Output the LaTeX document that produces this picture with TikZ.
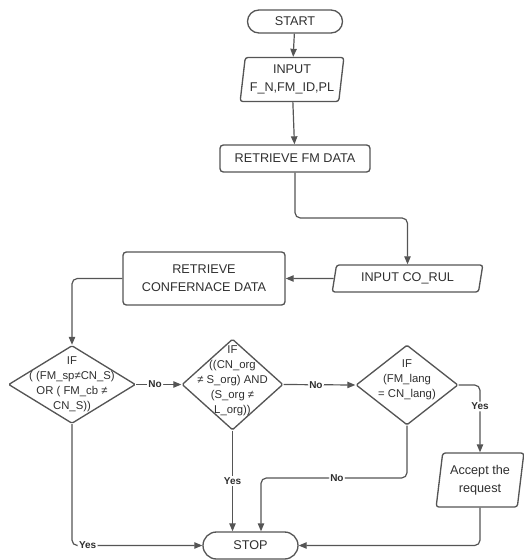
\documentclass[tikz,border=0pt]{standalone}
\usepackage{fontspec}
\setmainfont{Liberation Sans}
\usetikzlibrary{shapes.geometric,shapes.misc,arrows.meta}
\definecolor{edge}{HTML}{555555}
\definecolor{ink}{HTML}{2F2F2F}
\begin{document}
\begin{tikzpicture}[x=0.75pt,y=-0.75pt,
  base/.style={draw=edge, line width=1pt, text=ink, align=center, inner sep=0pt,
    font=\fontsize{9.5}{13.5}\selectfont},
  term/.style={base, rounded rectangle},
  proc/.style={base, rectangle, rounded corners=2.5pt},
  io/.style={base, trapezium, trapezium stretches=true, rounded corners=2pt},
  dec/.style={draw=edge, line width=1pt, diamond, inner sep=0pt, rounded corners=1pt},
  dtext/.style={text=ink, align=center, inner sep=0pt, font=\fontsize{8.5}{11.25}\selectfont},
  flow/.style={draw=edge, line width=0.9pt, rounded corners=4pt},
  arr/.style={flow, -{Triangle[length=6pt,width=4.8pt]}},
  tag/.style={fill=white, text=ink, inner sep=1pt, font=\fontsize{7.5}{9}\selectfont\bfseries}
]
\useasboundingbox (0,0) rectangle (524,560);

% main column
\node[term, minimum width=71.25pt, minimum height=17.25pt] (start) at (295,21.5) {START};
\node[io, trapezium left angle=81, trapezium right angle=99,
      minimum width=78pt, minimum height=33pt] (in1) at (292,79.5) {INPUT\\F\_N,FM\_ID,PL};
\node[proc, minimum width=112.5pt, minimum height=20.25pt] (rfm) at (295,158.5) {RETRIEVE FM DATA};
\node[io, trapezium left angle=76, trapezium right angle=104,
      minimum width=113.25pt, minimum height=20.25pt] (corul) at (407.5,278.5) {INPUT CO\_RUL};
\node[proc, minimum width=121.5pt, minimum height=39.75pt] (rcd) at (204,278.5) {RETRIEVE\\CONFERNACE DATA};

% decisions
\node[dec, minimum width=95.25pt, minimum height=58.5pt,
      label={[dtext]center:{IF\\( (FM\_sp≠CN\_S)\\OR ( FM\_cb ≠\\CN\_S))}}] (d1) at (72,384.5) {};
\node[dec, minimum width=75.75pt, minimum height=68.25pt,
      label={[dtext, yshift=2.5pt]center:{IF\\((CN\_org\\≠ S\_org) AND\\(S\_org ≠\\L\_org))}}] (d2) at (232.5,384.5) {};
\node[dec, minimum width=76.5pt, minimum height=60pt,
      label={[dtext, yshift=4pt]center:{IF\\(FM\_lang\\= CN\_lang)}}] (d3) at (407,385) {};

\node[io, trapezium left angle=80, trapezium right angle=100,
      minimum width=66pt, minimum height=40.5pt] (acc) at (480,480) {Accept the\\request};
\node[term, minimum width=71.25pt, minimum height=20.25pt] (stop) at (250.5,545.5) {STOP};

% junction points
\coordinate (jfm) at (350,218);
\coordinate (jno) at (261,478);

% connectors
\draw[arr] (start) -- (in1);
\draw[arr] (in1) -- (rfm);
\draw[arr] (rfm.south) |- (jfm) -| (corul.north);
\draw[arr] (corul.west) -- (rcd.east);
\draw[arr] (rcd.west) -| (d1.north);
\draw[arr] (d1.east) -- node[tag, pos=0.42] {No} (d2.west);
\draw[arr] (d2.east) -- node[tag, pos=0.45] {No} (d3.west);
\draw[arr] (d3.east) -| node[tag, pos=0.66] {Yes} (acc.north);
\draw[arr] (acc.south) |- (stop.east);
\draw[arr] (d3.south) |- node[tag, pos=0.74] {No} (jno) -- (jno |- stop.north);
\draw[arr] (d2.south) -- node[tag, pos=0.5] {Yes} (d2.south |- stop.north);
\draw[arr] (d1.south) |- node[tag, pos=0.56] {Yes} (stop.west);
\end{tikzpicture}
\end{document}
